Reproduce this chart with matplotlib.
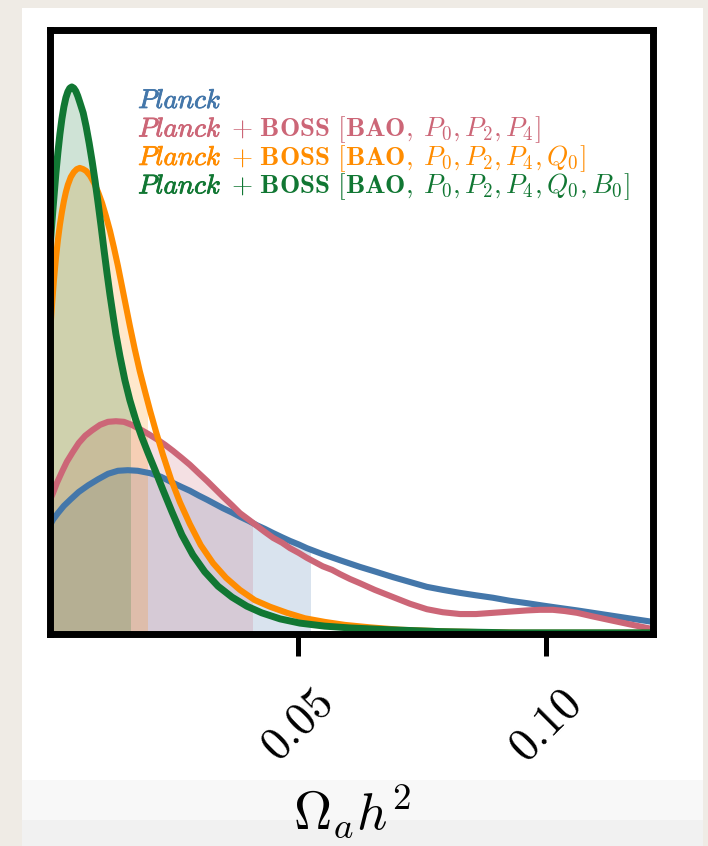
import matplotlib
matplotlib.use("Agg")
import matplotlib.pyplot as plt
import matplotlib.patheffects as pe
from matplotlib.patches import Rectangle

plt.rcParams['mathtext.fontset'] = 'cm'
plt.rcParams['font.family'] = 'serif'
plt.rcParams['font.serif'] = ['cmr10', 'DejaVu Serif']
plt.rcParams['axes.unicode_minus'] = False

# Posterior of Omega_a h^2 (relative density) for each data combination
planck_x = [0, 0.0006, 0.0016, 0.0028, 0.0042, 0.0058, 0.0077, 0.0097, 0.0117, 0.0137,
            0.0157, 0.0177, 0.0202, 0.0224, 0.0248, 0.0266, 0.0282, 0.0300, 0.0317, 0.0333,
            0.0349, 0.0367, 0.0383, 0.0401, 0.0417, 0.0433, 0.0450, 0.0468, 0.0484, 0.0502,
            0.0518, 0.0550, 0.0585, 0.0625, 0.0657, 0.0692, 0.0726, 0.0760, 0.0792, 0.0827,
            0.0859, 0.0893, 0.0927, 0.0962, 0.0994, 0.1028, 0.1063, 0.1095, 0.1135, 0.1175,
            0.1216]
planck_y = [0.180, 0.189, 0.200, 0.212, 0.223, 0.235, 0.246, 0.256, 0.265, 0.270,
            0.271, 0.270, 0.266, 0.260, 0.250, 0.243, 0.237, 0.229, 0.222, 0.215,
            0.208, 0.201, 0.194, 0.187, 0.180, 0.174, 0.167, 0.160, 0.154, 0.148,
            0.142, 0.132, 0.122, 0.111, 0.103, 0.094, 0.086, 0.078, 0.073, 0.068,
            0.064, 0.060, 0.055, 0.051, 0.047, 0.043, 0.039, 0.035, 0.030, 0.025,
            0.020]

pk_x = [0, 0.0006, 0.0014, 0.0024, 0.0034, 0.0046, 0.0058, 0.0071, 0.0085, 0.0101,
        0.0117, 0.0133, 0.0149, 0.0165, 0.0181, 0.0198, 0.0214, 0.0232, 0.0248, 0.0266,
        0.0282, 0.0300, 0.0317, 0.0333, 0.0349, 0.0367, 0.0383, 0.0401, 0.0417, 0.0433,
        0.0450, 0.0468, 0.0484, 0.0502, 0.0518, 0.0534, 0.0550, 0.0569, 0.0585, 0.0605,
        0.0625, 0.0655, 0.0692, 0.0726, 0.0760, 0.0792, 0.0827, 0.0859, 0.0893, 0.0927,
        0.0962, 0.0988, 0.1014, 0.1038, 0.1063, 0.1095, 0.1129, 0.1169, 0.1216]
pk_y = [0.222, 0.233, 0.250, 0.268, 0.285, 0.301, 0.316, 0.328, 0.337, 0.346,
        0.351, 0.352, 0.351, 0.346, 0.339, 0.331, 0.323, 0.313, 0.303, 0.291,
        0.280, 0.266, 0.253, 0.240, 0.227, 0.213, 0.200, 0.189, 0.179, 0.169,
        0.159, 0.151, 0.142, 0.134, 0.126, 0.119, 0.112, 0.106, 0.099, 0.091,
        0.084, 0.073, 0.061, 0.050, 0.041, 0.036, 0.033, 0.033, 0.035, 0.037,
        0.039, 0.040, 0.040, 0.038, 0.035, 0.029, 0.023, 0.016, 0.008]

pkq_x = [0, 0.0004, 0.0008, 0.0012, 0.0016, 0.0020, 0.0024, 0.0028, 0.0032, 0.0036,
         0.0042, 0.0048, 0.0054, 0.0060, 0.0067, 0.0073, 0.0081, 0.0089, 0.0097, 0.0105,
         0.0113, 0.0121, 0.0129, 0.0137, 0.0145, 0.0153, 0.0161, 0.0171, 0.0181, 0.0192,
         0.0202, 0.0214, 0.0228, 0.0244, 0.0262, 0.0282, 0.0304, 0.0329, 0.0355, 0.0383,
         0.0413, 0.0444, 0.0478, 0.0514, 0.0554, 0.0595, 0.0645, 0.0706, 0.0806, 0.0948,
         0.1216]
pkq_y = [0.495, 0.544, 0.586, 0.622, 0.652, 0.677, 0.698, 0.716, 0.731, 0.743,
         0.756, 0.764, 0.769, 0.771, 0.769, 0.766, 0.758, 0.746, 0.731, 0.713,
         0.691, 0.667, 0.639, 0.609, 0.576, 0.543, 0.510, 0.471, 0.435, 0.400,
         0.369, 0.334, 0.296, 0.256, 0.218, 0.182, 0.147, 0.117, 0.093, 0.073,
         0.056, 0.045, 0.035, 0.026, 0.020, 0.015, 0.011, 0.007, 0.004, 0.002,
         0.002]

pkqb_x = [0, 0.0004, 0.0008, 0.0012, 0.0016, 0.0020, 0.0024, 0.0028, 0.0032, 0.0036,
          0.0040, 0.0044, 0.0048, 0.0052, 0.0056, 0.0060, 0.0067, 0.0073, 0.0079, 0.0085,
          0.0091, 0.0097, 0.0103, 0.0109, 0.0115, 0.0121, 0.0127, 0.0133, 0.0141, 0.0151,
          0.0161, 0.0173, 0.0185, 0.0198, 0.0212, 0.0228, 0.0246, 0.0266, 0.0288, 0.0312,
          0.0339, 0.0367, 0.0397, 0.0427, 0.0464, 0.0504, 0.0554, 0.0605, 0.0685, 0.0786,
          0.0927, 0.1216]
pkqb_y = [0.639, 0.682, 0.723, 0.763, 0.797, 0.827, 0.852, 0.872, 0.887, 0.897,
          0.903, 0.905, 0.903, 0.898, 0.890, 0.880, 0.862, 0.839, 0.812, 0.782,
          0.749, 0.713, 0.675, 0.635, 0.597, 0.561, 0.528, 0.496, 0.460, 0.420,
          0.387, 0.354, 0.326, 0.299, 0.271, 0.238, 0.202, 0.164, 0.131, 0.103,
          0.079, 0.061, 0.046, 0.035, 0.025, 0.018, 0.013, 0.010, 0.007, 0.004,
          0.002, 0.002]

# 95% upper limits (shaded region under each curve)
upper_limits = [0.0524, 0.0407, 0.0196, 0.0161]

colors = ['#4477aa', '#cc6677', '#ff8c00', '#117733']
widths = [4.4, 4.4, 4.4, 5.0]

legend_tails = ['',
                r'$+\ \mathbf{BOSS}\ [\mathbf{BAO,}\;P_0, P_2, P_4]$',
                r'$+\ \mathbf{BOSS}\ [\mathbf{BAO,}\;P_0, P_2, P_4, Q_0]$',
                r'$+\ \mathbf{BOSS}\ [\mathbf{BAO,}\;P_0, P_2, P_4, Q_0, B_0]$']

tick_vals = [0.05, 0.10]
tick_labels = [r'$0.05$', r'$0.10$']

fig = plt.figure(figsize=(7.08, 8.46), dpi=100)
fig.patch.set_facecolor('#efebe5')
fig.patches.extend([
    Rectangle((0.031, 0.0), 0.962, 0.9905, transform=fig.transFigure,
              facecolor='white', edgecolor='none', zorder=-3),
    Rectangle((0.031, 0.0307), 0.962, 0.0473, transform=fig.transFigure,
              facecolor='#f8f8f8', edgecolor='none', zorder=-2),
    Rectangle((0.031, 0.0), 0.962, 0.0307, transform=fig.transFigure,
              facecolor='#f1f1f1', edgecolor='none', zorder=-2),
])

ax = fig.add_axes([0.0706, 0.2506, 0.8524, 0.7145])

curves = [(planck_x, planck_y), (pk_x, pk_y), (pkq_x, pkq_y), (pkqb_x, pkqb_y)]
for (x, y), lim, col, lw in zip(curves, upper_limits, colors, widths):
    ax.plot(x, y, color=col, lw=lw, solid_joinstyle='round', solid_capstyle='round')
    shade = ax.fill_between(x, 0, y, color=col, alpha=0.2, lw=0)
    shade.set_clip_path(Rectangle((0, 0), lim, 1.5, transform=ax.transData))

ax.set_xlim(0, 0.1217)
ax.set_ylim(0, 1.0)
ax.set_yticks([])
ax.set_xticks(tick_vals)
ax.set_xticklabels(tick_labels, rotation=45, fontsize=33)
ax.tick_params(axis='x', length=16, width=3.6, pad=19, direction='out')
ax.set_xlabel(r'$\Omega_a h^2$', fontsize=38, labelpad=9)

for side in ['top', 'bottom', 'left', 'right']:
    ax.spines[side].set_linewidth(5)

# legend written as coloured text lines
for i, (tail, col) in enumerate(zip(legend_tails, colors)):
    yb = 0.870 - i * 0.0471
    head = ax.text(0.146, yb, r'$\mathit{Planck}$', transform=ax.transAxes,
                   color=col, fontsize=19.5, va='baseline',
                   path_effects=[pe.withStroke(linewidth=0.6, foreground=col)])
    if tail:
        ax.annotate(tail, xy=(1, yb), xycoords=(head, 'axes fraction'),
                    xytext=(7, 0), textcoords='offset points',
                    color=col, fontsize=19.5, va='baseline')

fig.savefig('out.png', dpi=100, facecolor=fig.get_facecolor())
